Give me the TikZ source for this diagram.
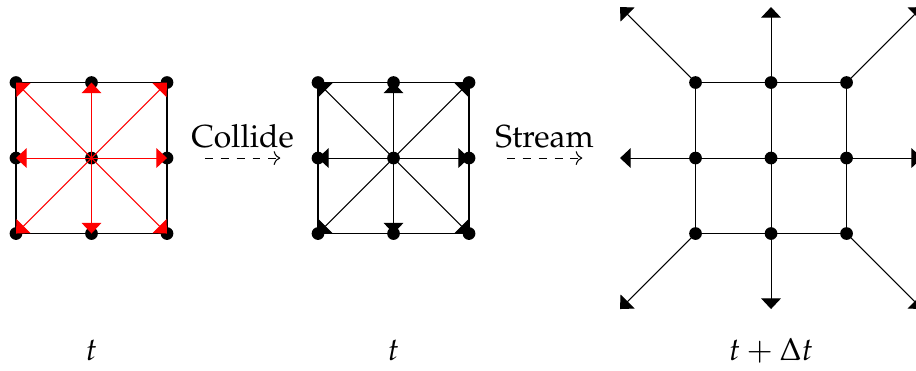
\documentclass[tikz,border=0pt]{standalone}
\usepackage[T1]{fontenc}
\usepackage{mathpazo}
\usetikzlibrary{arrows.meta,backgrounds}
\begin{document}
\begin{tikzpicture}[
  dot/.style={circle,fill=black,inner sep=0pt,minimum size=4.8pt},
  vel/.style={-{Triangle[length=4pt,width=7.4pt]}},
  flow/.style={dashed,->},
  lbl/.style={inner sep=0pt,font=\large},
  every node/.append style={font=\large},
]
\clip (-1.212,-2.808) rectangle (10.92,2.093);

% lattice nodes of the three stages (index 0..2 maps to offset -1..1)
\foreach \i in {0,1,2}
  \foreach \j in {0,1,2} {
    \node[dot] (A\i\j) at (\i-1,\j-1) {};
    \node[dot] (B\i\j) at (\i+3,\j-1) {};
    \node[dot] (C\i\j) at (\i+8,\j-1) {};
  }

% free ends of the streamed populations
\coordinate (E00) at (7,-2);
\coordinate (E10) at (9,-2);
\coordinate (E20) at (11,-2);
\coordinate (E01) at (7,0);
\coordinate (E21) at (11,0);
\coordinate (E02) at (7,2);
\coordinate (E12) at (9,2);
\coordinate (E22) at (11,2);

\begin{scope}[on background layer]
  % cell outlines
  \draw (A00.center) -- (A20.center) -- (A22.center) -- (A02.center) -- cycle;
  \draw (B00.center) -- (B20.center) -- (B22.center) -- (B02.center) -- cycle;
  \draw (C00.center) -- (C20.center) -- (C22.center) -- (C02.center) -- cycle;
  \draw (C10.center) -- (C12.center);
  \draw (C01.center) -- (C21.center);
  % post-collision populations, drawn under the dots
  \foreach \n in {00,10,20,01,21,02,12,22}
    \draw[vel] (B11.center) -- (B\n.center);
  % streamed populations
  \foreach \n in {00,10,20,01,21,02,12,22}
    \draw[vel] (C\n.center) -- (E\n);
\end{scope}

% pre-collision populations, drawn over the dots
\foreach \n in {00,10,20,01,21,02,12,22}
  \draw[vel,red] (A11.center) -- (A\n.center);

% step arrows
\coordinate (p1) at (1.5,0);
\coordinate (p2) at (2.5,0);
\coordinate (p3) at (5.5,0);
\coordinate (p4) at (6.5,0);
\draw[flow] (p1) -- node[above] {Collide} (p2);
\draw[flow] (p3) -- node[above] {Stream} (p4);

% time labels
\node[lbl] (t1) at (0,-2.55) {$t$};
\node[lbl] (t2) at (4,-2.55) {$t$};
\node[lbl] (t3) at (9,-2.55) {$t+\Delta t$};
\end{tikzpicture}
\end{document}
